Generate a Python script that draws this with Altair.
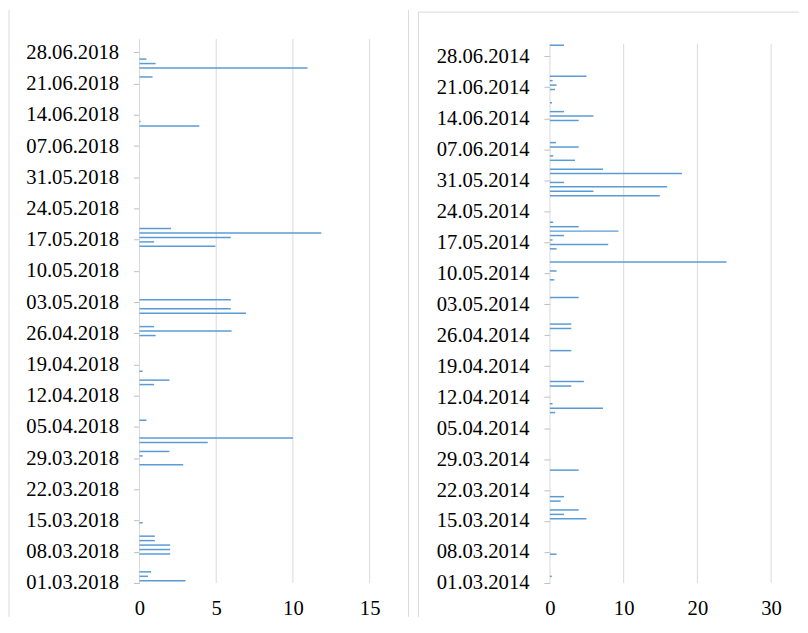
import altair as alt
import pandas as pd

# ---- data ----
dates_2018 = [
    "2018-03-01", "2018-03-02", "2018-03-03", "2018-03-07", "2018-03-08",
    "2018-03-09", "2018-03-10", "2018-03-11", "2018-03-14", "2018-03-27",
    "2018-03-29", "2018-03-30", "2018-04-01", "2018-04-02", "2018-04-06",
    "2018-04-14", "2018-04-15", "2018-04-17", "2018-04-25", "2018-04-26",
    "2018-04-27", "2018-04-30", "2018-05-01", "2018-05-03", "2018-05-15",
    "2018-05-16", "2018-05-17", "2018-05-18", "2018-05-19", "2018-06-11",
    "2018-06-12", "2018-06-22", "2018-06-24", "2018-06-25", "2018-06-26",
]
values_2018 = [
    3.0, 0.55, 0.75, 2.0, 2.0,
    2.0, 1.0, 1.0, 0.2, 2.85,
    0.2, 1.95, 4.45, 10.0, 0.45,
    0.95, 1.95, 0.2, 1.05, 6.0,
    0.95, 6.95, 5.95, 5.95, 4.95,
    0.95, 5.95, 11.85, 2.05, 3.9,
    0.07, 0.85, 10.95, 1.05, 0.45,
]

dates_2014 = [
    "2014-03-02", "2014-03-07", "2014-03-15", "2014-03-16", "2014-03-17",
    "2014-03-19", "2014-03-20", "2014-03-26", "2014-04-08", "2014-04-09",
    "2014-04-10", "2014-04-14", "2014-04-15", "2014-04-22", "2014-04-27",
    "2014-04-28", "2014-05-04", "2014-05-08", "2014-05-10", "2014-05-12",
    "2014-05-15", "2014-05-16", "2014-05-17", "2014-05-18", "2014-05-19",
    "2014-05-20", "2014-05-21", "2014-05-27", "2014-05-28", "2014-05-29",
    "2014-05-30", "2014-06-01", "2014-06-02", "2014-06-04", "2014-06-05",
    "2014-06-07", "2014-06-08", "2014-06-13", "2014-06-14", "2014-06-15",
    "2014-06-17", "2014-06-20", "2014-06-21", "2014-06-22", "2014-06-23",
    "2014-06-30",
]
values_2014 = [
    0.25, 0.9, 4.95, 1.9, 3.9,
    1.45, 1.9, 3.9, 0.7, 7.2,
    0.35, 2.9, 4.6, 2.9, 2.9,
    2.9, 3.9, 0.6, 0.9, 23.95,
    0.9, 7.9, 0.35, 1.9, 9.3,
    3.9, 0.45, 14.9, 5.9, 15.9,
    1.9, 17.9, 7.2, 3.4, 0.45,
    3.9, 0.8, 3.9, 5.9, 1.9,
    0.27, 0.68, 0.9, 0.36, 4.95,
    1.9,
]

x_ticks_2018 = [0, 5, 10, 15]
x_ticks_2014 = [0, 10, 20, 30]
label_days = list(range(0, 120, 7))  # 01.03 ... 28.06, every 7 days

FONT = "Liberation Serif, Times New Roman, Times, serif"
FS = 20.7
BLUE = "#5B9BD5"
GRID = "#D9D9D9"
HEIGHT = 546

frame_df = pd.DataFrame({"k": [0]})


def vline(x, y1, y2, color=GRID):
    return alt.Chart(frame_df).mark_rule(color=color, strokeWidth=1).encode(
        x=alt.value(x), y=alt.value(y1), y2=alt.value(y2)
    )


def hline(y, x1, x2, color=GRID):
    return alt.Chart(frame_df).mark_rule(color=color, strokeWidth=1).encode(
        y=alt.value(y), x=alt.value(x1), x2=alt.value(x2)
    )


def make_panel(dates, values, year, x_ticks, width, day_top, grid_top, frames):
    start = pd.Timestamp(f"{year}-03-01")
    df = pd.DataFrame({"date": pd.to_datetime(dates), "value": values})
    df["day"] = (df["date"] - start).dt.days + 0.5
    df = df[["day", "value"]]

    x_enc = alt.X(
        "value:Q",
        scale=alt.Scale(domain=[x_ticks[0], x_ticks[-1]], nice=False, zero=True, padding=0),
        axis=alt.Axis(
            values=x_ticks, grid=False, domain=False, ticks=False, tickSize=0,
            labelPadding=16, labelFlush=False, labelFont=FONT, labelFontSize=FS,
            labelColor="#000000", title=None,
        ),
    )
    y_enc = alt.Y(
        "day:Q",
        scale=alt.Scale(domain=[0, day_top], nice=False, zero=False, padding=0),
        axis=alt.Axis(
            values=label_days, grid=False, domain=False,
            ticks=True, tickColor="#BFBFBF", tickSize=6, labelPadding=15,
            labelFlush=False, labelFont=FONT, labelFontSize=FS,
            labelColor="#000000", labelOverlap=False, title=None,
            labelExpr=f"timeFormat(datetime({year}, 2, 1 + datum.value), '%d.%m.%Y')",
        ),
    )

    grid_df = pd.DataFrame({"value": x_ticks})
    grid = alt.Chart(grid_df).mark_rule(color=GRID, strokeWidth=1).encode(
        x=x_enc, y=alt.value(grid_top), y2=alt.value(HEIGHT)
    )
    bars = alt.Chart(df).mark_bar(orient="horizontal", size=1.5, color=BLUE).encode(
        x=x_enc, y=y_enc
    )
    return alt.layer(*frames, grid, bars).properties(width=width, height=HEIGHT)


# left panel: plot top at page y 37, 122 days over the full height
left = make_panel(
    dates_2018, values_2018, 2018, x_ticks_2018, 231, 122, 0,
    [vline(-131, -29, 580), vline(270, -29, 580)],
)
# right panel: same bottom, its plot top is ~4.7px lower in the reference
right = make_panel(
    dates_2014, values_2014, 2014, x_ticks_2014, 222, 122.9, 4.7,
    [vline(-132, -27, 580), hline(-27, -132, 250)],
)

chart = (
    alt.hconcat(left, right, spacing=8)
    .properties(padding=0, background="#FFFFFF")
    .configure_view(strokeWidth=0)
)

chart.save("out.html", embed_options={"renderer": "svg", "actions": False})
